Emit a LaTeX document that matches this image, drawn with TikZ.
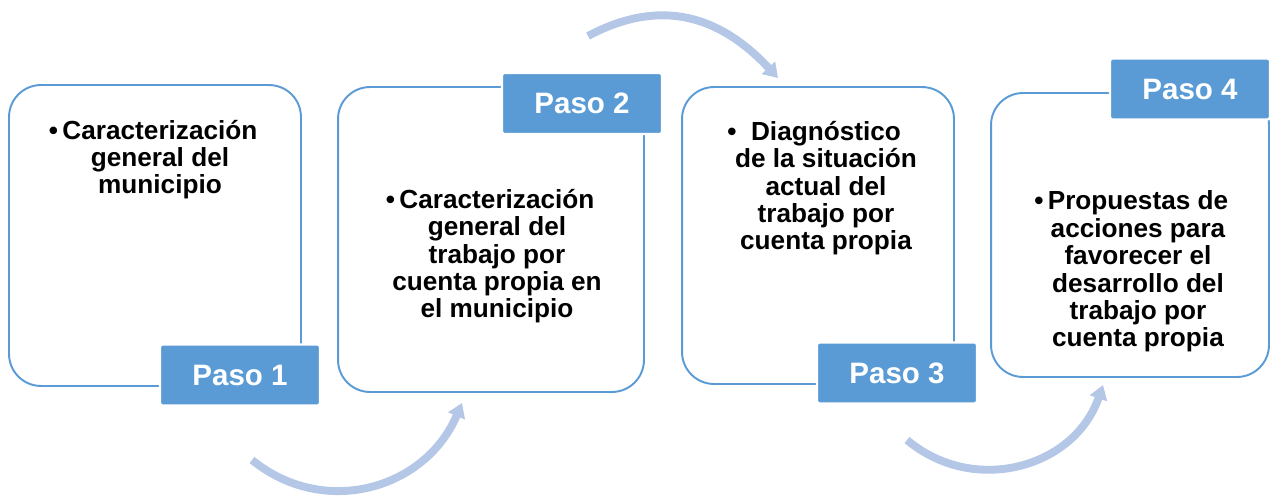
\documentclass[tikz,border=0pt]{standalone}
\usepackage{fontspec}
\setmainfont{Liberation Sans}
\usepackage{xcolor}
\usetikzlibrary{positioning,arrows.meta}
\definecolor{pasoblue}{HTML}{5B9BD5}
\definecolor{arcblue}{HTML}{B4C7E7}
\tikzset{
stepframe/.style={
draw=pasoblue,
line width=1.1pt,
rounded corners=0.64cm,
inner sep=0pt,
fill=white
},
pasotag/.style={
draw=white,
line width=1.2pt,
fill=pasoblue,
rounded corners=1.5pt,
minimum width=3.2cm,
minimum height=1.22cm,
inner sep=0pt,
text=white,
font=\fontsize{16.8}{20}\selectfont\bfseries
},
stepitem/.style={
align=center,
anchor=base,
inner sep=0pt,
font=\fontsize{14.9}{15.6}\selectfont\bfseries
},
flow/.style={
draw=arcblue,
line width=4.5pt,
looseness=1.1,
-{Triangle[width=10pt,length=8pt]}
}
}

\begin{document}
\begin{tikzpicture}[x=0.02cm,y=0.02cm]
\useasboundingbox (0,0) rectangle (1271,497);

% frames
\node[stepframe,minimum width=5.84cm,minimum height=6.02cm](box1) at (155,261.5){};
\node[stepframe,minimum width=6.12cm,minimum height=6.1cm](box2) at (491,257.5){};
\node[stepframe,minimum width=5.44cm,minimum height=5.94cm](box3) at (818,261.5){};
\node[stepframe,minimum width=5.56cm,minimum height=5.68cm](box4) at (1130,262){};

% tags
\node[pasotag](paso1) at (240,122){Paso 1};
\node[pasotag](paso2) at (582,393.5){Paso 2};
\node[pasotag](paso3) at (897,124){Paso 3};
\node[pasotag](paso4) at (1190,408){Paso 4};

% texts (base = last line)
\node[stepitem](txt1) at (160,303){\llap{•\,}Caracterización\\general del\\municipio};
\node[stepitem](txt2) at (497,179){\llap{•\,}Caracterización\\general del\\trabajo por\\cuenta propia en\\el municipio};
\node[stepitem](txt3) at (826,247){\llap{•\ \ }Diagnóstico\\de la situación\\actual del\\trabajo por\\cuenta propia};
\node[stepitem](txt4) at (1138,150){\llap{•\,}Propuestas de\\acciones para\\favorecer el\\desarrollo del\\trabajo por\\cuenta propia};

% arcs
\coordinate (a1s) at (252,37);
\coordinate (a1e) at (462,94);
\coordinate (a2s) at (588,461);
\coordinate (a2e) at (778,419);
\coordinate (a3s) at (907,57);
\coordinate (a3e) at (1103,112);

\foreach \s/\e/\o/\i in {a1s/a1e/-39/247,a2s/a2e/28/133,a3s/a3e/-40/251}
\draw[flow](\s) to[out=\o,in=\i] (\e);
\end{tikzpicture}
\end{document}
